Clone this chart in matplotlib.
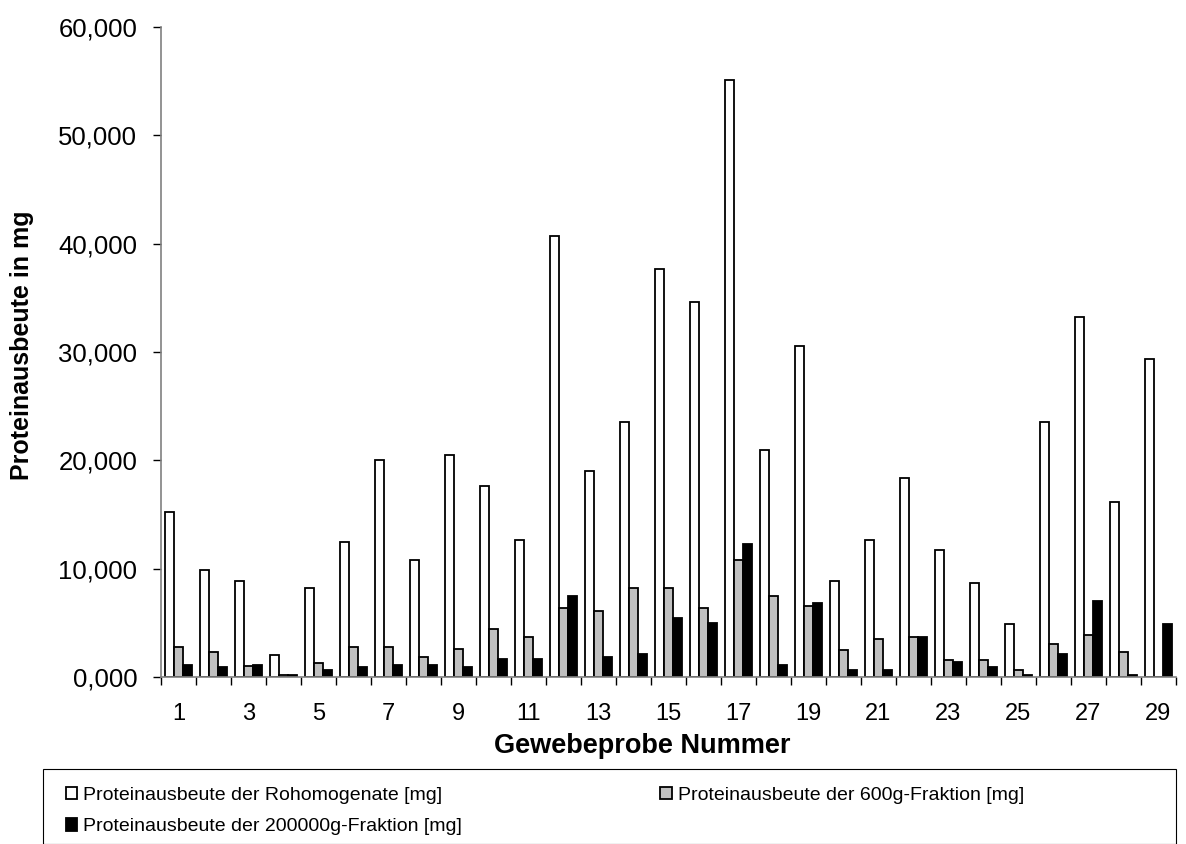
import matplotlib
matplotlib.use("Agg")
import matplotlib.pyplot as plt
from matplotlib.patches import Patch, Rectangle
import numpy as np

plt.rcParams['font.family'] = ['Liberation Sans', 'DejaVu Sans']

proben = list(range(1, 30))

roh = [15250, 9850, 8900, 2050, 8200, 12450, 20050, 10800, 20450, 17650,
       12650, 40750, 19050, 23550, 37650, 34600, 55100, 20950, 30550, 8900,
       12650, 18350, 11750, 8700, 4900, 23550, 33200, 16200, 29400]
frak600 = [2780, 2280, 1050, 220, 1330, 2780, 2780, 1850, 2560, 4440,
           3730, 6330, 6110, 8210, 8210, 6330, 10800, 7500, 6540, 2530,
           3490, 3700, 1600, 1600, 650, 3020, 3920, 2320, 0]
frak200000 = [1140, 930, 1140, 220, 680, 930, 1140, 1140, 930, 1640,
              1640, 7500, 1880, 2100, 5430, 4940, 12250, 1140, 6820, 680,
              680, 3700, 1390, 930, 220, 2100, 7040, 220, 4910]

yticks = [0, 10000, 20000, 30000, 40000, 50000, 60000]
yticklabels = ['0,000', '10,000', '20,000', '30,000', '40,000', '50,000', '60,000']
xlabels = [str(n) for n in proben[::2]]

labels = ['Proteinausbeute der Rohomogenate [mg]',
          'Proteinausbeute der 600g-Fraktion [mg]',
          'Proteinausbeute der 200000g-Fraktion [mg]']

fig = plt.figure(figsize=(11.86, 8.44), dpi=100)
ax = fig.add_axes([161/1186, 1-677/844, (1176-161)/1186, (677-27)/844])

x = np.array(proben)
w = 0.26
ax.bar(x - w, roh, w, color='white', edgecolor='black', linewidth=1.3)
ax.bar(x, frak600, w, color='#C0C0C0', edgecolor='black', linewidth=1.3)
ax.bar(x + w, frak200000, w, color='black', edgecolor='black', linewidth=1.3)

ax.set_xlim(0.5, 29.5)
ax.set_ylim(0, 60000)

ax.set_yticks(yticks)
ax.set_yticklabels(yticklabels, fontsize=18.5)
ax.tick_params(axis='y', direction='out', length=6, width=1, pad=11)

# tick marks between groups, labels under every second sample
ax.set_xticks(np.arange(0.5, 30, 1))
ax.set_xticklabels([])
ax.set_xticks(proben[::2], minor=True)
ax.set_xticklabels(xlabels, minor=True, fontsize=17)
ax.tick_params(axis='x', which='major', direction='out', length=6, width=1)
ax.tick_params(axis='x', which='minor', length=0, pad=19)

for s in ['top', 'right']:
    ax.spines[s].set_visible(False)
ax.spines['left'].set_color('#808080')
ax.spines['bottom'].set_color('#808080')
ax.spines['left'].set_linewidth(1.2)
ax.spines['bottom'].set_linewidth(1.2)

fig.text(642/1186, 1-746/844, 'Gewebeprobe Nummer', ha='center', va='center',
         fontsize=19.5, fontweight='bold')
fig.text(22/1186, 1-345/844, 'Proteinausbeute in mg', ha='center', va='center',
         rotation=90, fontsize=18, fontweight='bold')

# legend box below the axis
fig.patches.append(Rectangle((43/1186, 0), (1176-43)/1186, (844-769)/844,
                             transform=fig.transFigure, fill=False,
                             edgecolor='black', linewidth=0.8))
handles = [Patch(facecolor='white', edgecolor='black', linewidth=1.3),
           Patch(facecolor='black', edgecolor='black', linewidth=1.3),
           Patch(facecolor='#C0C0C0', edgecolor='black', linewidth=1.3)]
fig.legend(handles, [labels[0], labels[2], labels[1]], ncol=2,
           loc='upper left', bbox_to_anchor=(52/1186, 1-773/844),
           frameon=False, fontsize=14, handlelength=0.6, handleheight=0.6,
           handletextpad=0.3, columnspacing=10.2, labelspacing=0.75,
           borderpad=0.2)

fig.savefig('out.png', dpi=100)
